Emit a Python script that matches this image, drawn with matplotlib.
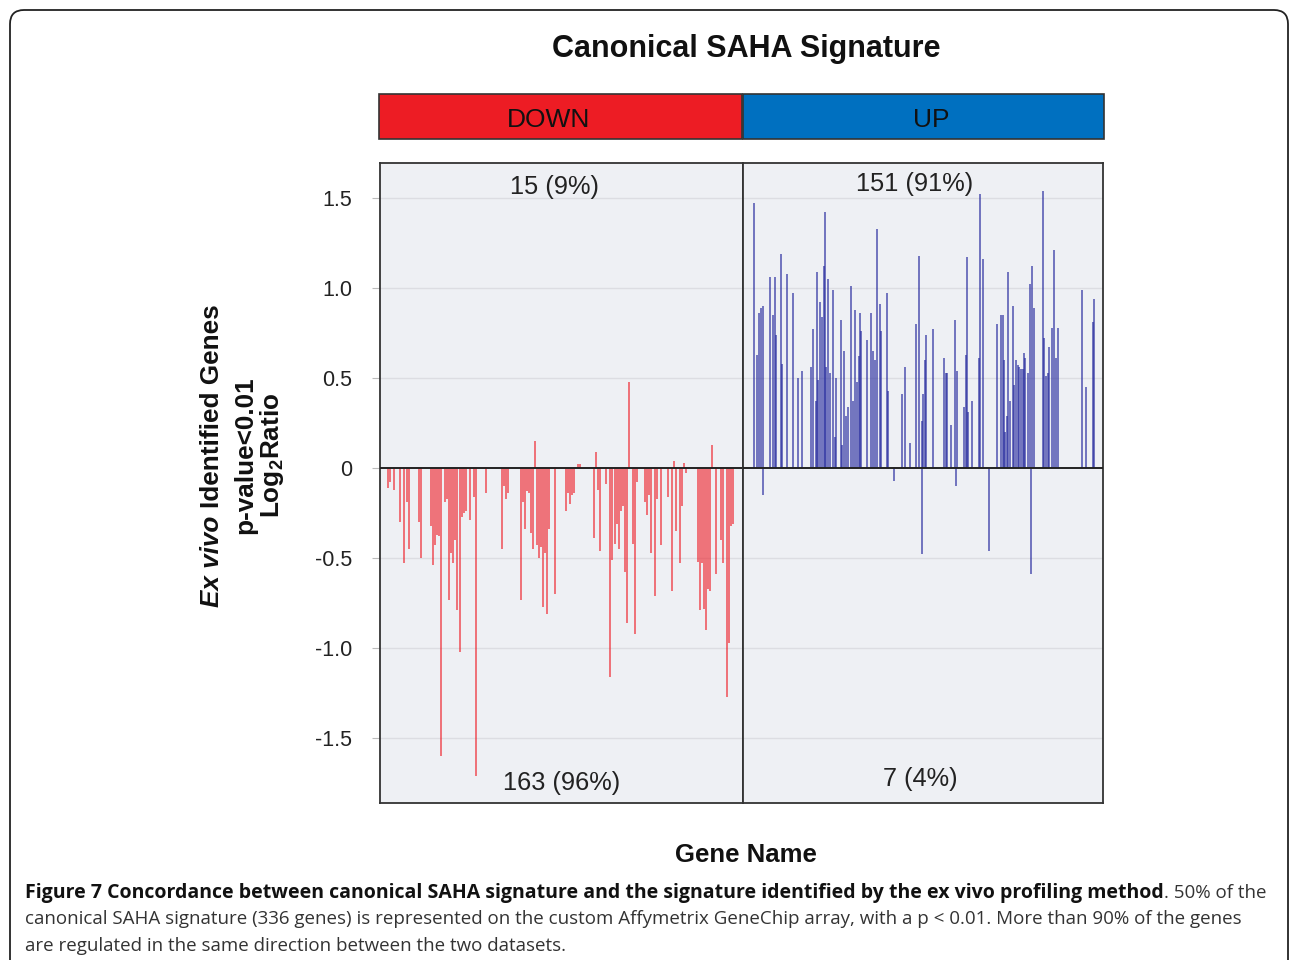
import matplotlib.pyplot as plt
import matplotlib.patches as mpatches

plt.rcParams['font.family'] = ['Liberation Sans', 'DejaVu Sans']
plt.rcParams['mathtext.fontset'] = 'custom'
plt.rcParams['mathtext.bf'] = 'Liberation Sans:bold'
plt.rcParams['mathtext.rm'] = 'Liberation Sans:bold'

# DOWN panel (178 genes): gene rank and log2 ratio
down_rank = [4, 5, 7, 10, 12, 13, 14, 19, 20, 25, 26, 27, 28, 29, 30,
             32, 33, 34, 35, 36, 37, 38, 39, 40, 41, 42, 44, 46, 47, 52,
             60, 61, 62, 63, 69, 70, 71, 72, 73, 74, 75, 76, 77, 78, 79,
             80, 81, 82, 83, 86,
             91, 92, 93, 94, 95, 97, 98, 105, 106, 107, 108, 111,
             113, 114, 115, 116, 117, 118, 119, 120, 121, 122, 124, 125, 126,
             130, 131, 132, 133, 135, 136, 138, 141, 143, 144, 145,
             147, 148, 149, 150, 156, 157, 158, 159, 160, 161, 162, 163,
             165, 167, 168, 170, 171, 172, 173]
down_val = [-0.11, -0.08, -0.12, -0.30, -0.53, -0.19, -0.45, -0.30, -0.50,
            -0.32, -0.54, -0.43, -0.37, -0.38, -1.60,
            -0.19, -0.17, -0.73, -0.47, -0.53, -0.40, -0.79, -1.02, -0.27,
            -0.25, -0.24, -0.29, -0.16, -1.71, -0.14,
            -0.45, -0.10, -0.17, -0.14, -0.73, -0.19, -0.34, -0.13, -0.14,
            -0.36, -0.45, 0.15, -0.43, -0.50, -0.44, -0.77, -0.47, -0.81,
            -0.34, -0.70,
            -0.24, -0.14, -0.20, -0.15, -0.14, 0.02, 0.02, -0.39, 0.09,
            -0.12, -0.46, -0.09,
            -1.16, -0.51, -0.42, -0.31, -0.45, -0.24, -0.21, -0.58, -0.86,
            0.48, -0.42, -0.92, -0.08,
            -0.19, -0.26, -0.15, -0.47, -0.71, -0.17, -0.43, -0.16, -0.68,
            0.04, -0.35,
            -0.53, -0.21, 0.03, -0.03, -0.52, -0.79, -0.53, -0.78, -0.90,
            -0.67, -0.68, 0.13,
            -0.59, -0.40, -0.53, -1.27, -0.97, -0.32, -0.31]

# UP panel (158 genes)
up_rank = [4.9, 6.0, 7.0, 7.9, 8.8, 8.9, 11.7, 13.2, 14.0, 14.5,
           16.7, 17.0, 19.5, 21.8, 24.0, 26.0,
           29.7, 30.6, 31.9, 32.6, 33.1, 33.9, 34.8, 35.4, 35.8, 36.6,
           37.5, 38.2, 39.5, 40.4, 41.0, 43.0, 43.6, 44.3, 45.1, 46.1,
           47.5, 48.4, 49.2, 50.0, 50.9, 51.5, 51.9, 54.4, 56.3, 57.2,
           58.1, 58.8, 60.3, 60.7, 63.1, 63.5, 66.3, 69.6, 71.1, 73.2,
           76.1, 77.4, 78.4, 78.6, 79.1, 79.9,
           80.5, 83.5, 88.2, 89.1, 89.7, 91.3, 93.1, 93.6, 94.0,
           97.2, 97.7, 98.2, 98.9, 100.4, 103.6, 104.2, 105.2, 108.0,
           111.6, 113.2, 114.0, 114.4, 115.0, 115.9, 116.5, 117.3,
           118.5, 119.1, 119.8, 120.6, 121.3, 122.0, 122.8, 123.3, 123.9,
           125.2, 125.8, 126.4, 127.0, 127.6,
           131.8, 132.3, 133.0, 133.7, 134.3, 135.5, 136.7, 137.2, 138.1,
           148.7, 150.6, 153.5, 154.1]
up_val = [1.47, 0.63, 0.86, 0.89, 0.90, -0.15, 1.06, 0.85, 1.06, 0.74,
          1.19, 0.58, 1.08, 0.97, 0.50, 0.54,
          0.56, 0.77, 0.37, 1.09, 0.49, 0.92, 0.84, 1.12, 1.42, 0.56,
          1.05, 0.53, 0.99, 0.17, 0.50, 0.82, 0.13, 0.65, 0.29, 0.34,
          1.01, 0.37, 0.88, 0.48, 0.62, 0.86, 0.76, 0.71, 0.86, 0.65,
          0.60, 1.33, 0.91, 0.76, 0.97, 0.43, -0.07, 0.41, 0.56, 0.14,
          0.80, 1.18, 0.26, -0.48, 0.41, 0.60,
          0.74, 0.77, 0.61, 0.53, 0.53, 0.24, 0.82, -0.10, 0.54,
          0.34, 0.63, 1.17, 0.31, 0.37, 0.61, 1.52, 1.16, -0.46,
          0.80, 0.85, 0.85, 0.60, 0.20, 0.29, 1.09, 0.37,
          0.90, 0.46, 0.60, 0.57, 0.56, 0.55, 0.55, 0.64, 0.61,
          0.53, 1.02, -0.59, 1.12, 0.89,
          1.54, 0.72, 0.51, 0.53, 0.67, 0.78, 1.21, 0.61, 0.78,
          0.99, 0.45, 0.81, 0.94]

n_down, n_up = 178, 158
panels = ['DOWN', 'UP']
counts_top = ['15 (9%)', '151 (91%)']
counts_bottom = ['163 (96%)', '7 (4%)']
yticks = [-1.5, -1.0, -0.5, 0, 0.5, 1.0, 1.5]
ytick_labels = ['-1.5', '-1.0', '-0.5', '0', '0.5', '1.0', '1.5']

W, H = 1290, 960
fig = plt.figure(figsize=(W / 100, H / 100), dpi=100)


def fx(px):
    return px / W


def fy(py):
    return 1 - py / H


# rounded border of the figure box (display pixels, origin bottom-left)
border = mpatches.FancyBboxPatch((10, -40), 1278, 990,
                                 boxstyle='round,pad=0,rounding_size=14',
                                 transform=None, fill=False, ec='#222222',
                                 lw=1.3, clip_on=False)
fig.patches.append(border)

ylim = (-1.86, 1.694)
axL = fig.add_axes([fx(380), fy(803), fx(363), 640 / H])
axR = fig.add_axes([fx(743), fy(803), fx(360), 640 / H])

for ax, xmax in [(axL, n_down), (axR, n_up)]:
    ax.set_facecolor('#EEF0F4')
    ax.set_xlim(0, xmax)
    ax.set_ylim(*ylim)
    ax.set_xticks([])
    for y in yticks:
        if y != 0:
            ax.axhline(y, color='#DCDDE2', lw=1.0, zorder=0)
    ax.axhline(0, color='#222222', lw=1.4, zorder=3)
    for s in ax.spines.values():
        s.set_color('#333333')
        s.set_linewidth(1.3)

axL.vlines(down_rank, 0, down_val, color='#EE1C25', lw=1.3, alpha=0.65, zorder=2)
axR.vlines(up_rank, 0, up_val, color='#262A9E', lw=1.3, alpha=0.68, zorder=2)

axL.set_yticks(yticks)
axL.set_yticklabels(ytick_labels, fontsize=15.5, color='#222222')
axL.tick_params(axis='y', length=6, color='#BBBBBB', pad=14)
axR.set_yticks([])

axL.text(0.48, 0.962, counts_top[0], transform=axL.transAxes, ha='center',
         va='center', fontsize=18.3, color='#222222')
axL.text(0.5, 0.031, counts_bottom[0], transform=axL.transAxes, ha='center',
         va='center', fontsize=18.3, color='#222222')
axR.text(0.477, 0.967, counts_top[1], transform=axR.transAxes, ha='center',
         va='center', fontsize=18.3, color='#222222')
axR.text(0.492, 0.037, counts_bottom[1], transform=axR.transAxes, ha='center',
         va='center', fontsize=18.3, color='#222222')

# DOWN / UP header bars
for (x0, x1, col, tx), name in zip([(379, 742, '#ED1C24', 549),
                                    (743, 1104, '#0070C0', 931)], panels):
    fig.patches.append(mpatches.Rectangle((fx(x0), fy(139)), fx(x1 - x0), 45 / H,
                                          transform=fig.transFigure, fc=col,
                                          ec='#333333', lw=1.2))
    fig.text(fx(tx), fy(120), name, ha='center', va='center',
             fontsize=19, color='#111111')

fig.text(fx(746), fy(49), 'Canonical SAHA Signature', ha='center', va='center',
         fontsize=22, fontweight='bold', color='#111111')
fig.text(fx(746), fy(855), 'Gene Name', ha='center', va='center',
         fontsize=18.5, fontweight='bold', color='#111111')

# y label, three rotated lines
fig.canvas.draw()
rend = fig.canvas.get_renderer()
t1 = fig.text(fx(212), fy(607), 'Ex vivo ', rotation=90, ha='center', va='bottom',
              fontsize=18.8, fontweight='bold', style='italic', color='#111111')
h1 = t1.get_window_extent(rend).height
fig.text(fx(212), fy(607) + h1 / H, 'Identified Genes', rotation=90, ha='center',
         va='bottom', fontsize=18.8, fontweight='bold', color='#111111')
fig.text(fx(245), fy(455), 'p-value<0.01', rotation=90, ha='center', va='center',
         fontsize=18.8, fontweight='bold', color='#111111')
fig.text(fx(272), fy(455), r'Log$_\mathbf{2}$Ratio', rotation=90, ha='center',
         va='center', fontsize=18.8, fontweight='bold', color='#111111')

# caption
cap_font = ['Open Sans', 'DejaVu Sans']
b = fig.text(fx(25), fy(893), 'Figure 7 Concordance between canonical SAHA signature '
             'and the signature identified by the ex vivo profiling method',
             ha='left', va='center', fontsize=14, fontweight='bold',
             family=cap_font, color='#111111')
bw = b.get_window_extent(rend).width
fig.text(fx(25) + bw / W, fy(893), '. 50% of the', ha='left', va='center',
         fontsize=13.5, family=cap_font, color='#333333')
fig.text(fx(25), fy(919), 'canonical SAHA signature (336 genes) is represented on the '
         'custom Affymetrix GeneChip array, with a p < 0.01. More than 90% of the genes',
         ha='left', va='center', fontsize=13.5, family=cap_font, color='#333333')
fig.text(fx(25), fy(946), 'are regulated in the same direction between the two datasets.',
         ha='left', va='center', fontsize=13.5, family=cap_font, color='#333333')

fig.savefig('out.png', dpi=100)
